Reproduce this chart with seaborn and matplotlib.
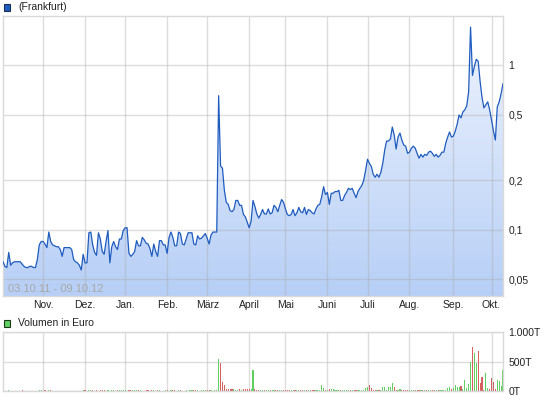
import numpy as np
import pandas as pd
import matplotlib
matplotlib.use("Agg")
import matplotlib.pyplot as plt
import seaborn as sns
from matplotlib.colors import LinearSegmentedColormap
from matplotlib.patches import Rectangle
from matplotlib.ticker import NullLocator

# trading days Frankfurt 03.10.11 - 09.10.12
feiertage = ["2011-12-26", "2012-04-06", "2012-04-09", "2012-05-01"]
monate = ["Nov.", "Dez.", "Jan.", "Feb.", "März", "April", "Mai", "Juni", "Juli", "Aug.", "Sep.", "Okt."]

# closing price in EUR, one per trading day
kurs = [
    0.064, 0.060, 0.059, 0.073, 0.061, 0.063, 0.064, 0.064, 0.064, 0.064,
    0.062, 0.060, 0.059, 0.059, 0.060, 0.060, 0.059, 0.059, 0.066, 0.081,
    0.085, 0.085, 0.082, 0.078, 0.097, 0.085, 0.081, 0.080, 0.079, 0.079,
    0.076, 0.069, 0.078, 0.078, 0.078, 0.078, 0.076, 0.066, 0.064,
    0.063, 0.061, 0.057, 0.071, 0.063, 0.063, 0.096, 0.097, 0.081, 0.073,
    0.070, 0.096, 0.088, 0.074, 0.071, 0.085, 0.099, 0.063, 0.079, 0.085,
    0.079, 0.076, 0.088, 0.088, 0.099, 0.103, 0.103, 0.072, 0.069, 0.071,
    0.074, 0.086, 0.080, 0.080, 0.090, 0.087, 0.083, 0.082, 0.077, 0.069,
    0.082, 0.074, 0.069, 0.086, 0.086, 0.081, 0.081, 0.072, 0.090, 0.097,
    0.090, 0.080, 0.080, 0.097, 0.095, 0.082, 0.081, 0.088, 0.096, 0.096,
    0.096, 0.082, 0.081, 0.092, 0.088, 0.089, 0.092, 0.095, 0.089,
    0.082, 0.093, 0.097, 0.097, 0.097, 0.655, 0.245, 0.237, 0.174, 0.147,
    0.143, 0.131, 0.129, 0.133, 0.151, 0.151, 0.141, 0.141, 0.124, 0.120,
    0.111, 0.103, 0.113, 0.151, 0.139, 0.125, 0.118, 0.124, 0.133, 0.125,
    0.125, 0.134, 0.125, 0.127, 0.141, 0.137, 0.129, 0.141, 0.153, 0.147,
    0.134, 0.124, 0.122, 0.124, 0.133, 0.122, 0.127, 0.137, 0.129, 0.127,
    0.137, 0.124, 0.133, 0.131, 0.127, 0.125, 0.134, 0.141, 0.143, 0.159,
    0.183, 0.164, 0.169, 0.143, 0.167, 0.167, 0.171, 0.171, 0.174,
    0.151, 0.151, 0.162, 0.169, 0.179, 0.176, 0.179, 0.167, 0.157, 0.171,
    0.179, 0.186, 0.200, 0.230, 0.269, 0.254, 0.243, 0.218, 0.209, 0.218,
    0.209, 0.224, 0.254, 0.305, 0.347, 0.347, 0.357, 0.422, 0.377, 0.310,
    0.367, 0.388, 0.352, 0.328, 0.323, 0.292, 0.297, 0.314, 0.323, 0.314,
    0.292, 0.273, 0.288, 0.277, 0.288, 0.284, 0.297, 0.301, 0.292, 0.280,
    0.288, 0.277, 0.284, 0.297, 0.297, 0.337, 0.367, 0.394, 0.367,
    0.372, 0.399, 0.441, 0.500, 0.480, 0.522, 0.537, 0.568, 0.693, 1.71,
    0.87, 0.986, 1.09, 1.06, 0.80, 0.64, 0.552, 0.576, 0.601, 0.537,
    0.466, 0.399, 0.352, 0.560, 0.601, 0.673, 0.776,
]

# volume in thousand EUR
volumen = [
    0, 0, 0, 15, 0, 0, 0, 0, 0, 0,
    15, 0, 0, 0, 0, 0, 0, 0, 0, 15,
    15, 0, 15, 0, 15, 15, 0, 0, 0, 0,
    0, 0, 0, 0, 0, 0, 0, 0, 0,
    0, 0, 0, 15, 15, 0, 15, 15, 15, 0,
    15, 0, 15, 15, 15, 0, 15, 0, 15, 15,
    0, 15, 15, 15, 15, 15, 0, 15, 15, 15,
    15, 15, 15, 15, 0, 0, 15, 15, 0, 15,
    15, 0, 15, 15, 0, 0, 15, 15, 0, 15,
    15, 15, 0, 15, 15, 0, 0, 15, 0, 15,
    15, 15, 15, 15, 0, 15, 15, 15, 15,
    15, 15, 0, 15, 20, 545, 483, 150, 100, 28,
    28, 28, 28, 28, 20, 20, 28, 20, 28, 28,
    28, 28, 28, 360, 28, 20, 15, 20, 20, 15,
    15, 15, 20, 15, 20, 15, 15, 20, 20, 15,
    15, 15, 20, 15, 15, 20, 15, 15, 20, 15,
    15, 15, 15, 20, 15, 15, 20, 20, 15, 95,
    55, 20, 15, 28, 28, 28, 15, 20, 20,
    15, 15, 15, 15, 15, 20, 15, 15, 15, 15,
    15, 20, 20, 44, 67, 95, 55, 20, 20, 20,
    15, 20, 61, 61, 20, 61, 61, 128, 61, 20,
    20, 28, 20, 20, 20, 15, 15, 15, 15, 15,
    15, 20, 15, 15, 15, 15, 15, 20, 20, 15,
    15, 15, 15, 15, 17, 15, 50, 70, 40,
    55, 95, 67, 67, 78, 40, 183, 50, 122, 500,
    740, 640, 472, 683, 140, 240, 20, 305, 55, 40,
    222, 150, 40, 183, 167, 83, 350,
]

dates = pd.bdate_range("2011-10-03", "2012-10-09", freq="C", holidays=feiertage)
assert len(kurs) == len(dates) and len(volumen) == len(dates), (len(kurs), len(volumen), len(dates))

df = pd.DataFrame({"day": np.arange(len(dates)), "date": dates, "kurs": kurs, "volumen": volumen})
first_days = df.groupby(df["date"].dt.to_period("M"))["day"].min().values[1:]

sns.set_style("white")
plt.rcParams["font.family"] = ["Liberation Sans", "DejaVu Sans"]

LINE = "#1f5cc0"
GRID = "#a8a8a8"
SPINE = "#d9d9d9"
YMIN, YMAX = 0.0396, 2.0

fig = plt.figure(figsize=(5.45, 4.01), dpi=100)
ax = fig.add_axes([3 / 545, 1 - 296 / 401, 500 / 545, 280 / 401])
axv = fig.add_axes([3 / 545, 1 - 391 / 401, 500 / 545, 59 / 401])

# price panel
fill = ax.fill_between(df["day"], df["kurs"], YMIN, facecolor="none", edgecolor="none")
cmap = LinearSegmentedColormap.from_list("blau", ["#b7cff6", "#f0f5fe"])
grad = np.linspace(0, 1, 256).reshape(-1, 1)
img = ax.imshow(grad, extent=[0, 1, 0, 1], transform=ax.transAxes, aspect="auto",
                cmap=cmap, origin="lower", zorder=1)
img.set_clip_path(fill.get_paths()[0], ax.transData)
sns.lineplot(data=df, x="day", y="kurs", ax=ax, color=LINE, lw=0.9, zorder=3)

ax.set_yscale("log")
ax.set_xlim(0, len(df) - 1)
ax.set_ylim(YMIN, YMAX)
ax.set_xlabel("")
ax.set_ylabel("")
ax.set_xticks(first_days, monate)
ax.yaxis.tick_right()
ax.set_yticks([0.05, 0.1, 0.2, 0.5, 1], ["0,05", "0,1", "0,2", "0,5", "1"])
ax.yaxis.set_minor_locator(NullLocator())
ax.tick_params(axis="x", length=0, pad=3, labelsize=7.5, colors="#222222")
ax.tick_params(axis="y", length=0, pad=4, labelsize=7.5, colors="#222222")
ax.grid(True, color=GRID, alpha=0.38, lw=1.0)
ax.set_axisbelow("line")
for s in ax.spines.values():
    s.set_color(SPINE)
    s.set_linewidth(1.0)
ax.text(0.01, 0.025, "03.10.11 - 09.10.12", transform=ax.transAxes, color="#a8a8a8",
        fontsize=8, va="center")

# volume panel, green = up/unchanged day, red = down day
chg = df["kurs"].diff().fillna(1)
farben = np.where(chg < 0, "#d65f5f", "#62cf62")
axv.bar(df["day"], df["volumen"], width=0.6, color=farben, linewidth=0, zorder=2)
axv.set_xlim(0, len(df) - 1)
axv.set_ylim(0, 1000)
axv.set_xticks(first_days, [""] * len(first_days))
axv.yaxis.tick_right()
axv.set_yticks([0, 500, 1000], ["0T", "500T", "1.000T"])
axv.tick_params(axis="both", length=0, pad=4, labelsize=7.5, colors="#222222")
axv.grid(True, color=GRID, alpha=0.38, lw=1.0)
axv.set_axisbelow(True)
for s in axv.spines.values():
    s.set_color(SPINE)
    s.set_linewidth(1.0)

# legend boxes
fig.add_artist(Rectangle((3.5 / 545, 1 - 10.5 / 401), 6.5 / 545, 6.5 / 401, transform=fig.transFigure,
                         facecolor=LINE, edgecolor="#1b2f55", lw=0.8))
fig.text(18 / 545, 1 - 7 / 401, "(Frankfurt)", va="center", fontsize=7.5, color="#222222")
fig.add_artist(Rectangle((3.5 / 545, 1 - 326.5 / 401), 6.5 / 545, 6.5 / 401, transform=fig.transFigure,
                         facecolor="#62cf62", edgecolor="#1b3a1b", lw=0.8))
fig.text(18 / 545, 1 - 323 / 401, "Volumen in Euro", va="center", fontsize=7.5, color="#222222")

fig.savefig("out.png", dpi=100)
